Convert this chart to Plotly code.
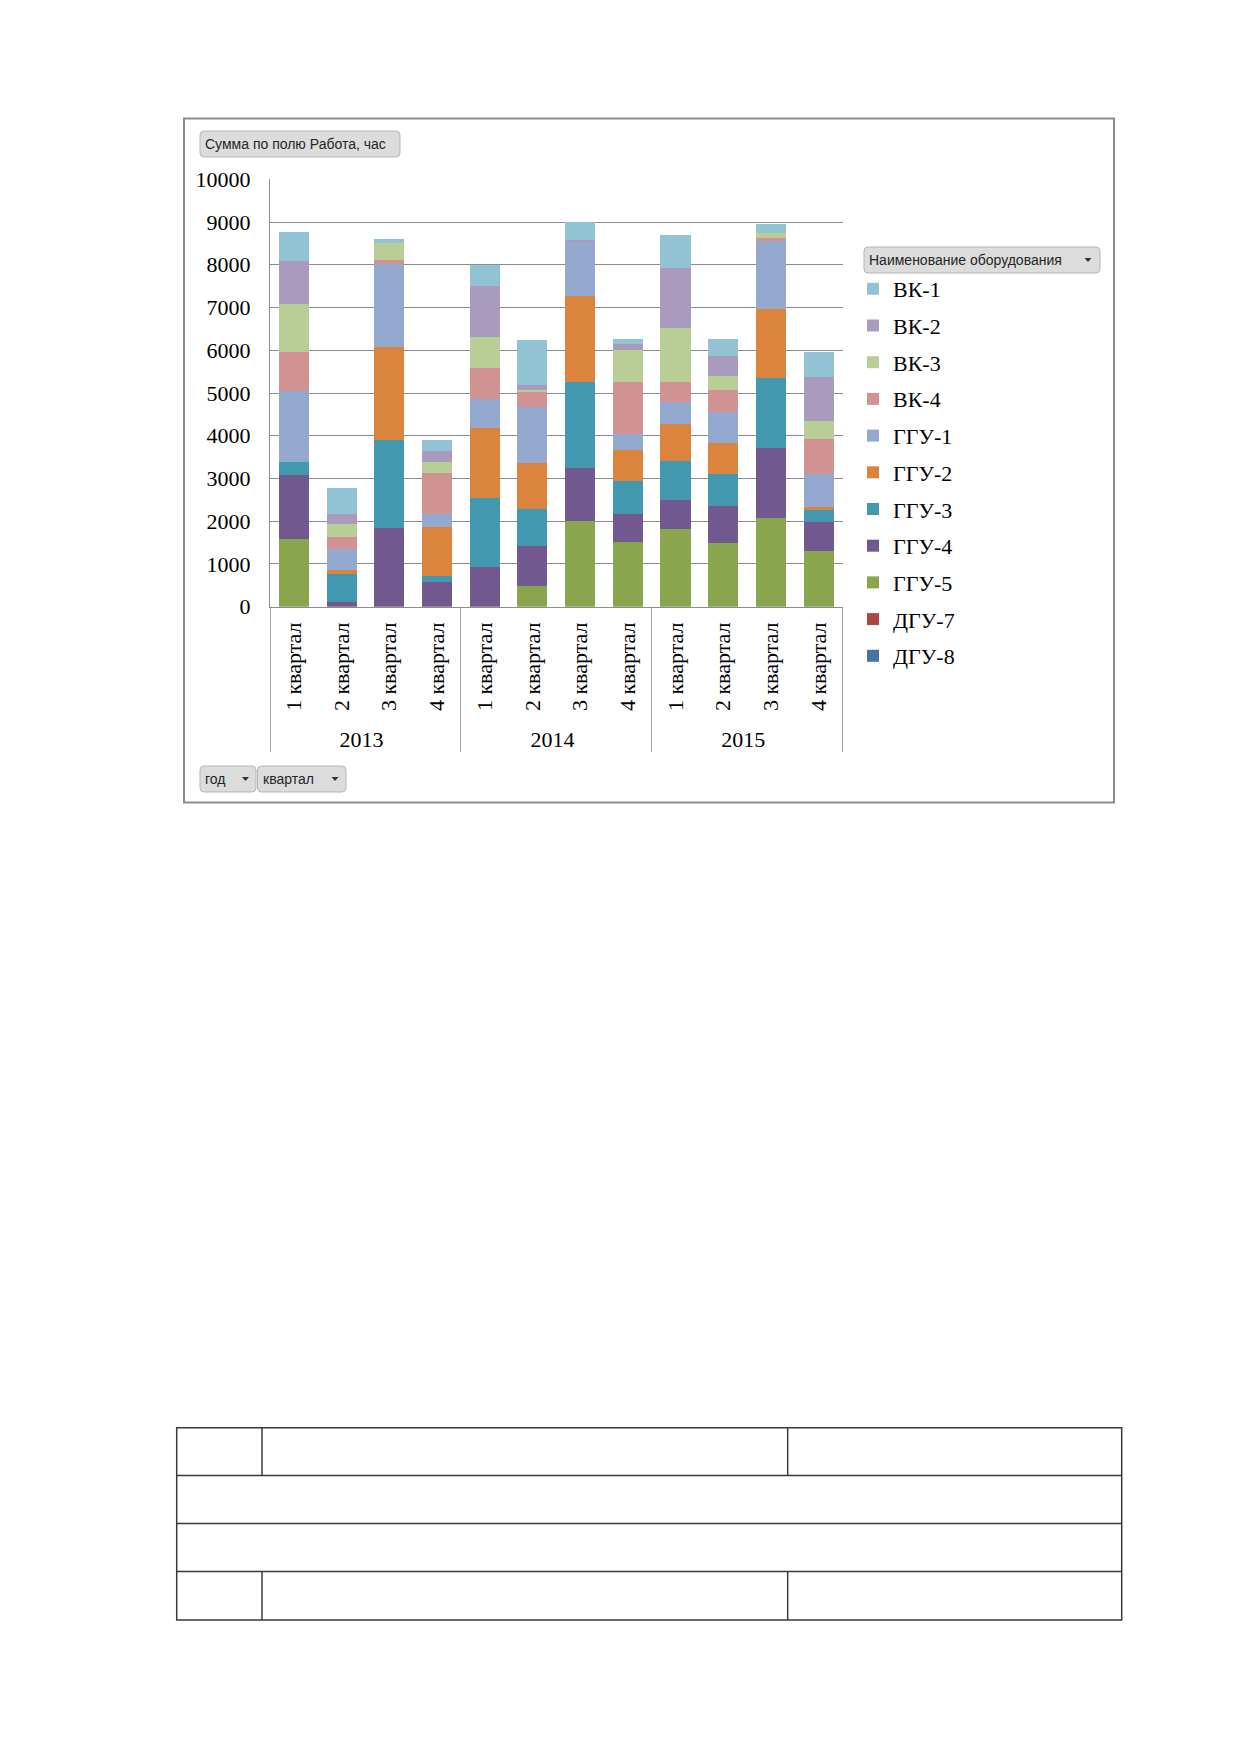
import plotly.graph_objects as go

W, H = 1239, 1752
OFF = 8  # the page body adds an 8px margin, so pixel targets are shifted back by it

# --- data -------------------------------------------------------------
years = ["2013"] * 4 + ["2014"] * 4 + ["2015"] * 4
quarters = ["1 квартал", "2 квартал", "3 квартал", "4 квартал"] * 3

dgu_8 = [0] * 12
dgu_7 = [0] * 12
ggu_5 = [1583, 0, 0, 0, 0, 484, 2012, 1513, 1817, 1498, 2083, 1303]
ggu_4 = [1490, 110, 1841, 577, 936, 928, 1233, 648, 679, 865, 1638, 670]
ggu_3 = [312, 654, 2059, 148, 1599, 866, 2012, 780, 921, 742, 1630, 289]
ggu_2 = [0, 86, 2177, 1147, 1646, 1076, 2013, 717, 850, 733, 1615, 62]
ggu_1 = [1670, 492, 1942, 296, 686, 1318, 1279, 383, 530, 710, 1591, 773]
vk_4 = [912, 280, 101, 968, 718, 351, 0, 1216, 460, 514, 71, 819]
vk_3 = [1123, 312, 390, 249, 725, 47, 0, 757, 1272, 344, 117, 429]
vk_2 = [1000, 227, 0, 265, 1194, 117, 20, 133, 1404, 468, 0, 1022]
vk_1 = [680, 608, 94, 242, 484, 1045, 440, 117, 757, 397, 220, 585]

# stacking order bottom -> top
series = [
    ("ДГУ-8", dgu_8, "#4572A7"),
    ("ДГУ-7", dgu_7, "#AA4643"),
    ("ГГУ-5", ggu_5, "#89A54E"),
    ("ГГУ-4", ggu_4, "#71588F"),
    ("ГГУ-3", ggu_3, "#4198AF"),
    ("ГГУ-2", ggu_2, "#DB843D"),
    ("ГГУ-1", ggu_1, "#93A9CF"),
    ("ВК-4", vk_4, "#D19392"),
    ("ВК-3", vk_3, "#B9CD96"),
    ("ВК-2", vk_2, "#A99BBD"),
    ("ВК-1", vk_1, "#92C3D5"),
]


def px(x):
    return (x - OFF) / W


def py(y):
    return 1 - (y - OFF) / H


def rounded_rect(x0, y0, x1, y1, r=4):
    # pixel coords -> paper path with rounded corners
    X0, X1 = px(x0), px(x1)
    Y0, Y1 = py(y0), py(y1)
    rx, ry = r / W, r / H
    return (f"M{X0 + rx},{Y0} L{X1 - rx},{Y0} Q{X1},{Y0} {X1},{Y0 - ry} "
            f"L{X1},{Y1 + ry} Q{X1},{Y1} {X1 - rx},{Y1} L{X0 + rx},{Y1} "
            f"Q{X0},{Y1} {X0},{Y1 + ry} L{X0},{Y0 - ry} Q{X0},{Y0} {X0 + rx},{Y0} Z")


def triangle(cx, cy, w=7, h=4):
    return (f"M{px(cx - w / 2)},{py(cy - h / 2)} L{px(cx + w / 2)},{py(cy - h / 2)} "
            f"L{px(cx)},{py(cy + h / 2)} Z")


fig = go.Figure()

n = len(series)
for i, (name, vals, color) in enumerate(series):
    fig.add_trace(go.Bar(
        x=[years, quarters], y=vals, name=name,
        marker=dict(color=color, line=dict(width=0)),
        legendgroup=name, legendrank=n - i,
    ))

serif = "Liberation Serif"
sans = "Liberation Sans"

shapes = []
annotations = []

# outer chart frame
shapes.append(dict(type="rect", xref="paper", yref="paper",
                   x0=px(184), x1=px(1114), y0=py(118.5), y1=py(802.5),
                   line=dict(color="#8C8C8C", width=2), layer="below"))

# field buttons
buttons = [
    (200, 131, 400, 157, "Сумма по полю Работа, час", None),
    (200, 766, 256, 792, "год", 245.5),
    (257.5, 766, 346, 792, "квартал", 335),
    (864, 247, 1100, 273, "Наименование оборудования", 1088),
]
for x0, y0, x1, y1, label, arrow in buttons:
    shapes.append(dict(type="path", xref="paper", yref="paper",
                       path=rounded_rect(x0, y0, x1, y1),
                       fillcolor="#DCDCDC", line=dict(color="#B5B5B5", width=1)))
    annotations.append(dict(xref="paper", yref="paper", x=px(x0 + 3), y=py((y0 + y1) / 2),
                            xanchor="left", yanchor="middle", showarrow=False,
                            text=label, font=dict(family=sans, size=14, color="#262626")))
    if arrow:
        shapes.append(dict(type="path", xref="paper", yref="paper",
                           path=triangle(arrow, (y0 + y1) / 2),
                           fillcolor="#303030", line=dict(width=0)))

# table at the bottom of the page
tl = "#3A3A3A"
tx = [176.7, 262, 787.7, 1121.7]
ty = [1427.7, 1475.5, 1523.5, 1571.5, 1620]
shapes.append(dict(type="rect", xref="paper", yref="paper",
                   x0=px(tx[0]), x1=px(tx[3]), y0=py(ty[0]), y1=py(ty[4]),
                   line=dict(color=tl, width=1.5)))
for yy in ty[1:4]:
    shapes.append(dict(type="line", xref="paper", yref="paper",
                       x0=px(tx[0]), x1=px(tx[3]), y0=py(yy), y1=py(yy),
                       line=dict(color=tl, width=1.5)))
for xx in tx[1:3]:
    for r0, r1 in [(ty[0], ty[1]), (ty[3], ty[4])]:
        shapes.append(dict(type="line", xref="paper", yref="paper",
                           x0=px(xx), x1=px(xx), y0=py(r0), y1=py(r1),
                           line=dict(color=tl, width=1.5)))

fig.update_layout(
    width=W, height=H,
    margin=dict(l=0, r=0, t=0, b=0, autoexpand=False),
    paper_bgcolor="white", plot_bgcolor="white",
    barmode="stack", bargap=0.37,
    xaxis=dict(
        type="multicategory", domain=[px(270), px(842.5)],
        tickangle=-90, tickfont=dict(family=serif, size=22, color="black"),
        showline=True, linecolor="#8C8C8C", linewidth=1,
        showdividers=True, dividercolor="#A6A6A6", dividerwidth=1,
        ticks="", ticklabelstandoff=6, automargin=False,
    ),
    yaxis=dict(
        domain=[py(606.7), py(179.3)], range=[0, 10000], dtick=1000,
        tickformat="d",
        tickfont=dict(family=serif, size=22, color="black"),
        showgrid=True, gridcolor="#8C8C8C", gridwidth=1,
        showline=True, linecolor="#8C8C8C", linewidth=1,
        zeroline=False, ticks="", ticklabelstandoff=14, automargin=False,
    ),
    showlegend=True,
    legend=dict(
        x=px(853), y=py(268), xanchor="left", yanchor="top",
        traceorder="grouped", tracegroupgap=5.1,
        font=dict(family=serif, size=22, color="black"),
        bgcolor="rgba(0,0,0,0)", itemclick=False, itemdoubleclick=False,
    ),
    shapes=shapes,
    annotations=annotations,
)

fig.write_html("out.html", config={"displayModeBar": False})
